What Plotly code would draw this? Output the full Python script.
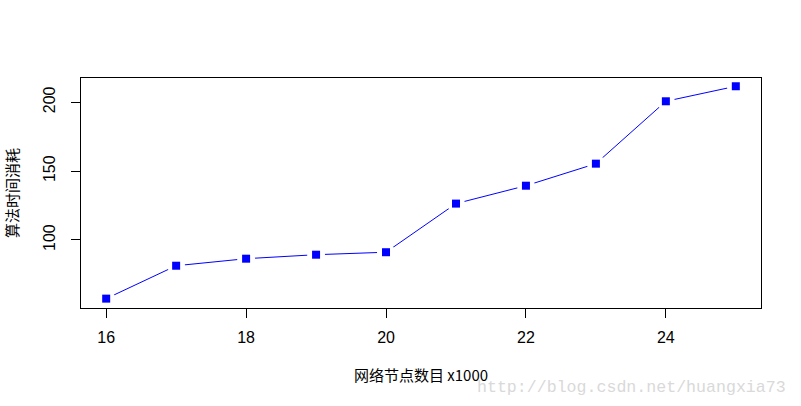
import plotly.graph_objects as go

nodes = [16, 17, 18, 19, 20, 21, 22, 23, 24, 25]
cost = [57.4, 81.3, 86.4, 89.3, 91.1, 126.4, 139.4, 155.4, 200.7, 211.6]
x_ticks = [16, 18, 20, 22, 24]
y_ticks = [100, 150, 200]

x_title = "网络节点数目 x1000"
y_title = "算法时间消耗"
watermark = "http://blog.csdn.net/huangxia73"

fig = go.Figure()
fig.add_trace(go.Scatter(x=nodes, y=cost, mode="lines",
                         line=dict(color="#0000ff", width=1), hoverinfo="skip"))
fig.add_trace(go.Scatter(x=nodes, y=cost, mode="markers",
                         marker=dict(symbol="circle", size=18, color="white"), hoverinfo="skip"))
fig.add_trace(go.Scatter(x=nodes, y=cost, mode="markers",
                         marker=dict(symbol="square", size=8, color="#0000ff")))

font = "Liberation Sans, Arial, Noto Sans CJK SC, sans-serif"
fig.update_layout(
    width=801, height=406,
    margin=dict(l=78, r=40, t=78, b=98),
    paper_bgcolor="white", plot_bgcolor="white",
    showlegend=False,
    font=dict(family=font, size=16, color="black"),
    xaxis=dict(range=[15.64, 25.36], tickvals=x_ticks, ticktext=[str(v) for v in x_ticks],
               showgrid=False, zeroline=False, showline=True, mirror=True,
               linecolor="black", linewidth=1, ticks="outside", ticklen=9,
               tickcolor="black", tickwidth=1, ticklabelstandoff=6,
               title=dict(text=x_title, standoff=25,
                          font=dict(family="Noto Sans CJK SC, Liberation Sans", size=15))),
    yaxis=dict(range=[50.6, 217.6], tickvals=y_ticks, ticktext=[str(v) for v in y_ticks],
               showgrid=False, zeroline=False, showline=True, mirror=True,
               linecolor="black", linewidth=1, ticks="outside", ticklen=9,
               tickcolor="black", tickwidth=1, tickangle=-90, ticklabelstandoff=10,
               title=dict(text=y_title, standoff=18,
                          font=dict(family="Noto Sans CJK SC, Liberation Sans", size=15))),
    annotations=[dict(text=watermark, xref="paper", yref="paper", x=1.04, y=-0.345,
                      xanchor="right", yanchor="middle", showarrow=False,
                      font=dict(family="Liberation Mono, DejaVu Sans Mono", size=16.6,
                                color="#d9d9d9"))],
)
fig.write_html("out.html", config={"displayModeBar": False},
               post_script="document.body.style.margin='0';")
